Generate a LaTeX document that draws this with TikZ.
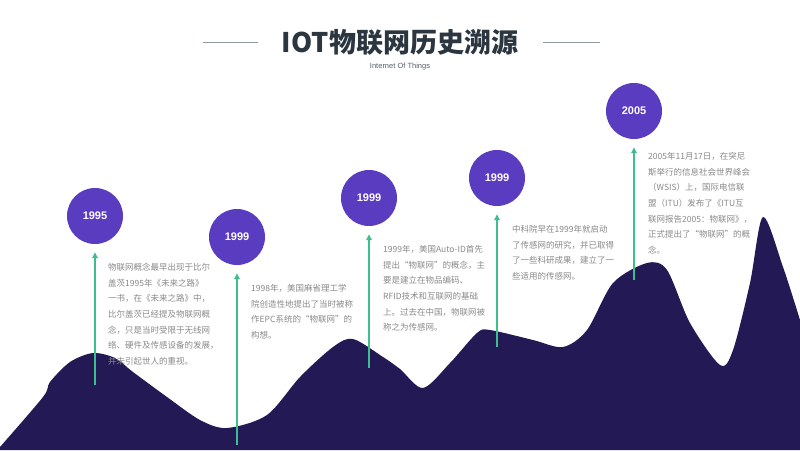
\documentclass[tikz,border=0pt]{standalone}
\usepackage{fontspec}
\setmainfont{Liberation Sans}
\newfontfamily\cjk{Noto Sans CJK SC}
\usetikzlibrary{arrows.meta}
\definecolor{mount}{HTML}{231A55}
\definecolor{circ}{HTML}{5A3CC0}
\definecolor{grn}{HTML}{3DBE8E}
\definecolor{bodytxt}{HTML}{8A8A8A}
\definecolor{titletxt}{HTML}{2B3640}
\definecolor{rulecol}{HTML}{8F9A9A}
\tikzset{
  yearcirc/.style={circle, fill=circ, minimum size=56pt, inner sep=0pt, text=white, font=\fontsize{11}{11}\selectfont\bfseries},
  arr/.style={draw=grn, line width=1.5pt, -{Triangle[width=5.5pt,length=6pt]}, shorten >=8pt},
  desc/.style={anchor=north west, inner sep=0pt, align=left, text=bodytxt, font=\cjk\fontsize{8.5}{15.7}\selectfont},
  titlerule/.style={draw=rulecol, line width=0.9pt}
}
\begin{document}
\begin{tikzpicture}[x=1pt,y=-1pt]
\fill[white] (0,0) rectangle (800,450);
\useasboundingbox (0,0) rectangle (800,450);
% mountain
\fill[mount] plot[smooth, tension=0.5] coordinates {
 (0,447) (43,397) (50,382) (70,362) (93,353) (115,358) (133,372) (167,397) (200,420) (227,428)
 (267,415) (300,377) (333,347) (353,339) (383,357) (400,369) (423,388) (450,363) (477,333)
 (490,330) (533,340) (563,347) (587,330) (613,283) (647,263) (667,270) (690,323) (720,365)
 (733,350) (750,283) (763,217) (783,267) (800,320)}
 -- (800,450) -- (0,450) -- cycle;
% title
\node[font=\cjk\bfseries\fontsize{27}{27}\selectfont, text=titletxt] (title) at (400,42) {IOT物联网历史溯源};
\node[font=\fontsize{7.5}{7.5}\selectfont, text=titletxt!80] (sub) at (400,67) {Internet Of Things};
\coordinate (r1) at (203,42);
\coordinate (r2) at (543,42);
\draw[titlerule] (r1) -- ++(55,0);
\draw[titlerule] (r2) -- ++(57,0);
% circles
\node[yearcirc] (c1) at (95,216) {1995};
\node[yearcirc] (c2) at (237,237) {1999};
\node[yearcirc] (c3) at (369,198) {1999};
\node[yearcirc] (c4) at (497,178) {1999};
\node[yearcirc] (c5) at (634,111) {2005};
% arrow feet
\coordinate (b1) at (95,385);
\coordinate (b2) at (237,445);
\coordinate (b3) at (369,368);
\coordinate (b4) at (497,347);
\coordinate (b5) at (634,280);
\draw[arr] (b1) -- (c1);
\draw[arr] (b2) -- (c2);
\draw[arr] (b3) -- (c3);
\draw[arr] (b4) -- (c4);
\draw[arr] (b5) -- (c5);
% texts
\node[desc] (t1) at (108,263) {物联网概念最早出现于比尔\\盖茨1995年《未来之路》\\一书，在《未来之路》中，\\比尔盖茨已经提及物联网概\\念，只是当时受限于无线网\\络、硬件及传感设备的发展，\\并未引起世人的重视。};
\node[desc] (t2) at (251,284) {1998年，美国麻省理工学\\院创造性地提出了当时被称\\作EPC系统的“物联网”的\\构想。};
\node[desc] (t3) at (383,245) {1999年，美国Auto-ID首先\\提出“物联网”的概念，主\\要是建立在物品编码、\\RFID技术和互联网的基础\\上。过去在中国，物联网被\\称之为传感网。};
\node[desc] (t4) at (512,225) {中科院早在1999年就启动\\了传感网的研究，并已取得\\了一些科研成果，建立了一\\些适用的传感网。};
\node[desc] (t5) at (648,152) {2005年11月17日，在突尼\\斯举行的信息社会世界峰会\\（WSIS）上，国际电信联\\盟（ITU）发布了《ITU互\\联网报告2005：物联网》，\\正式提出了“物联网”的概\\念。};
\end{tikzpicture}
\end{document}
